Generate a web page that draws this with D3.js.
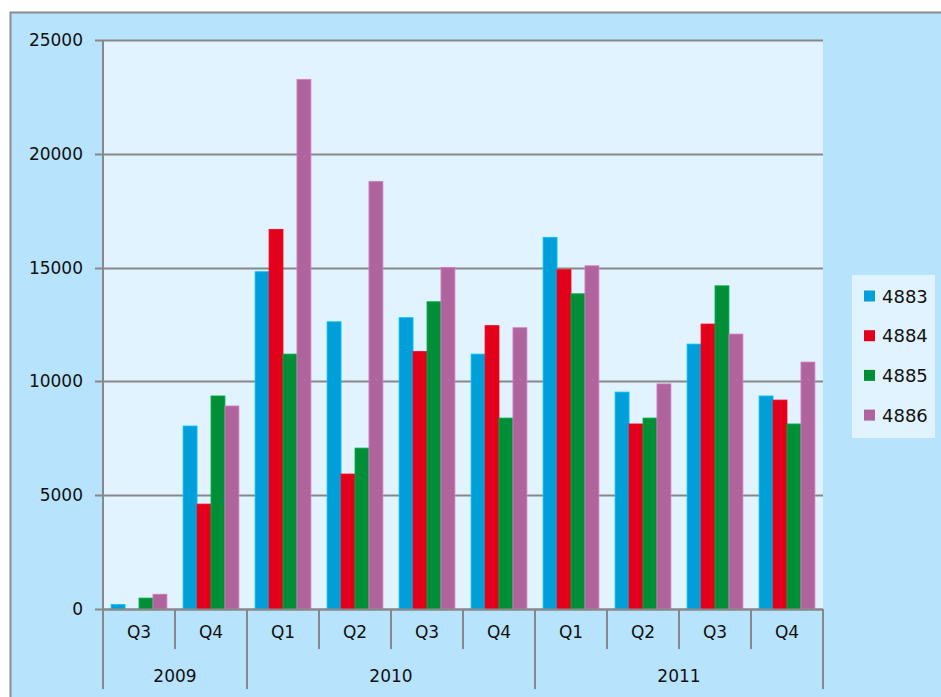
<!DOCTYPE html>
<html>
<head>
<meta charset="utf-8">
<script src="https://cdn.jsdelivr.net/npm/d3@7"></script>
<style>
  body { margin: 0; background: #fff; }
  text { font-family: "DejaVu Sans", sans-serif; fill: #111; }
</style>
</head>
<body>
<svg id="chart" width="941" height="697"></svg>
<script>
// data
const years = ["2009", "2010", "2011"];
const quarters = [["Q3", "Q4"], ["Q1", "Q2", "Q3", "Q4"], ["Q1", "Q2", "Q3", "Q4"]];
const series = ["4883", "4884", "4885", "4886"];
const colors = ["#009fda", "#e2001a", "#008f36", "#b0649d"];
const yTicks = [0, 5000, 10000, 15000, 20000, 25000];

const v4883 = [200, 8040, 14820, 12620, 12800, 11200, 16330, 9530, 11640, 9360];
const v4884 = [0, 4610, 16680, 5930, 11310, 12450, 14910, 8130, 12520, 9180];
const v4885 = [480, 9360, 11200, 7070, 13500, 8390, 13850, 8390, 14200, 8130];
const v4886 = [650, 8920, 23270, 18790, 15010, 12360, 15080, 9890, 12080, 10850];
const values = [v4883, v4884, v4885, v4886];

let svg = d3.select("#chart");
let plotLeft = 103, plotRight = 823, plotTop = 40, plotBottom = 609;

// outer frame
svg.append("rect")
  .attr("x", 10.5).attr("y", 12.5)
  .attr("width", 940).attr("height", 700)
  .attr("fill", "#b8e3fc")
  .style("stroke", "#8c8c8c").style("stroke-width", 2);

// plot area
svg.append("rect")
  .attr("x", plotLeft).attr("y", plotTop)
  .attr("width", plotRight - plotLeft).attr("height", plotBottom - plotTop)
  .attr("fill", "#e1f3fe");

// categories as index list
let cats = [];
quarters.forEach((qs, yi) => qs.forEach(q => cats.push({ year: years[yi], q: q })));
let idx = cats.map((d, i) => i);

let x0 = d3.scaleBand().domain(idx).range([plotLeft, plotRight]).paddingInner(0).paddingOuter(0);
let x1 = d3.scaleBand().domain(series).range([0, x0.bandwidth()]).paddingInner(0).paddingOuter(0.58);
let y = d3.scaleLinear().domain([0, 25000]).range([plotBottom, plotTop]);

// gridlines
svg.append("g").selectAll("line").data(yTicks).join("line")
  .attr("x1", plotLeft - 8).attr("x2", plotRight)
  .attr("y1", d => Math.round(y(d)) + 0.5).attr("y2", d => Math.round(y(d)) + 0.5)
  .style("stroke", "#888").style("stroke-width", 2);

// y labels
svg.append("g").selectAll("text").data(yTicks).join("text")
  .attr("x", 83).attr("y", d => y(d))
  .attr("text-anchor", "end")
  .attr("dominant-baseline", "central")
  .style("font-size", "17px")
  .text(d => d);

// left axis line
svg.append("line")
  .attr("x1", plotLeft).attr("x2", plotLeft).attr("y1", plotTop).attr("y2", plotBottom)
  .style("stroke", "#888").style("stroke-width", 2);

// bars
series.forEach((s, si) => {
  svg.append("g").selectAll("rect").data(values[si]).join("rect")
    .attr("x", (d, i) => x0(i) + x1(s))
    .attr("y", d => y(d))
    .attr("width", x1.bandwidth())
    .attr("height", d => plotBottom - y(d))
    .attr("fill", colors[si])
    .style("stroke", d3.color(colors[si]).brighter(0.6))
    .style("stroke-width", d => d > 0 ? 0.8 : 0);
});

// x axis baseline
svg.append("line")
  .attr("x1", plotLeft).attr("x2", plotRight).attr("y1", plotBottom + 0.5).attr("y2", plotBottom + 0.5)
  .style("stroke", "#888").style("stroke-width", 2);

let edge = i => i < cats.length ? x0(i) : plotRight;

// quarter separators
svg.append("g").selectAll("line").data(d3.range(cats.length + 1)).join("line")
  .attr("x1", edge).attr("x2", edge)
  .attr("y1", plotBottom).attr("y2", 649)
  .style("stroke", "#888").style("stroke-width", 2);

// quarter labels
svg.append("g").selectAll("text").data(cats).join("text")
  .attr("x", (d, i) => x0(i) + x0.bandwidth() / 2)
  .attr("y", 632)
  .attr("text-anchor", "middle")
  .attr("dominant-baseline", "central")
  .style("font-size", "17px")
  .text(d => d.q);

// year separators and labels
let start = 0;
let yearBounds = [];
quarters.forEach((qs, yi) => {
  yearBounds.push({ year: years[yi], a: start, b: start + qs.length });
  start += qs.length;
});
svg.append("g").selectAll("line").data([0].concat(yearBounds.map(d => d.b))).join("line")
  .attr("x1", edge).attr("x2", edge)
  .attr("y1", plotBottom).attr("y2", 689)
  .style("stroke", "#888").style("stroke-width", 2);
svg.append("g").selectAll("text").data(yearBounds).join("text")
  .attr("x", d => (edge(d.a) + edge(d.b)) / 2)
  .attr("y", 676)
  .attr("text-anchor", "middle")
  .attr("dominant-baseline", "central")
  .style("font-size", "17px")
  .text(d => d.year);

// legend
let legend = svg.append("g");
legend.append("rect")
  .attr("x", 852).attr("y", 275).attr("width", 83).attr("height", 163)
  .attr("fill", "#e1f3fe");
series.forEach((s, i) => {
  let ly = 296 + i * 39.7;
  legend.append("rect")
    .attr("x", 864).attr("y", ly - 5.5).attr("width", 11).attr("height", 11)
    .attr("fill", colors[i]);
  legend.append("text")
    .attr("x", 882).attr("y", ly)
    .attr("dominant-baseline", "central")
    .style("font-size", "18px")
    .text(s);
});
</script>
</body>
</html>
